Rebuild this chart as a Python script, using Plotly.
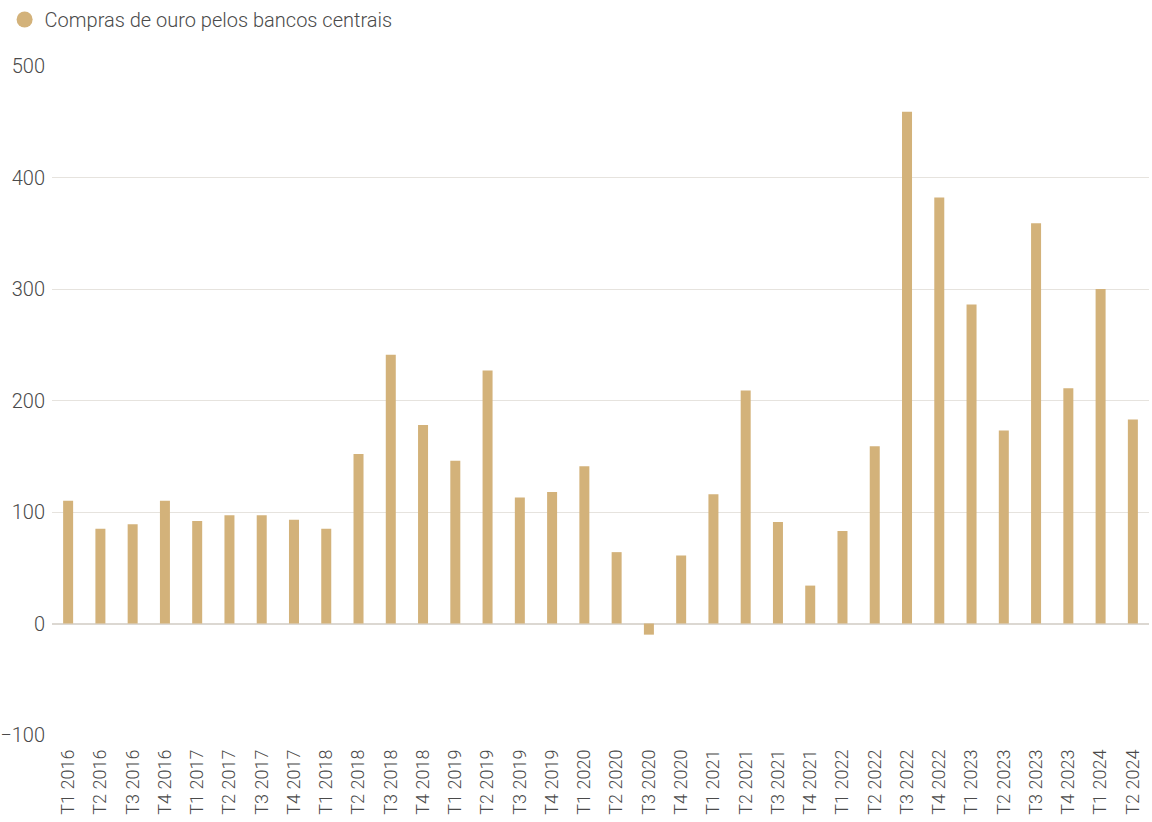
import plotly.graph_objects as go

categories = [
    "T1 2016", "T2 2016", "T3 2016", "T4 2016",
    "T1 2017", "T2 2017", "T3 2017", "T4 2017",
    "T1 2018", "T2 2018", "T3 2018", "T4 2018",
    "T1 2019", "T2 2019", "T3 2019", "T4 2019",
    "T1 2020", "T2 2020", "T3 2020", "T4 2020",
    "T1 2021", "T2 2021", "T3 2021", "T4 2021",
    "T1 2022", "T2 2022", "T3 2022", "T4 2022",
    "T1 2023", "T2 2023", "T3 2023", "T4 2023",
    "T1 2024", "T2 2024",
]
purchases = [
    110, 85, 89, 110,
    92, 97, 97, 93,
    85, 152, 241, 178,
    146, 227, 113, 118,
    141, 64, -10, 61,
    116, 209, 91, 34,
    83, 159, 459, 382,
    286, 173, 359, 211,
    300, 183,
]
series_name = "Compras de ouro pelos bancos centrais"
y_ticks = [-100, 0, 100, 200, 300, 400, 500]

GOLD = "#D3B27A"
FONT = "Roboto"
TEXT = "#4a4a4a"

fig = go.Figure()
fig.add_trace(go.Bar(
    x=categories, y=purchases, marker=dict(color=GOLD, line=dict(width=0)),
    showlegend=False, name=series_name,
))
fig.add_trace(go.Scatter(
    x=[None], y=[None], mode="markers", name=series_name,
    marker=dict(color=GOLD, size=16, symbol="circle"), showlegend=True,
))

fig.update_layout(
    width=1152, height=822,
    margin=dict(l=52, r=3, t=66, b=87, autoexpand=False),
    plot_bgcolor="white", paper_bgcolor="white",
    bargap=0.69,
    font=dict(family=FONT, color=TEXT, size=18),
    legend=dict(
        orientation="h", xref="container", yref="container",
        x=0.004, y=1.0, xanchor="left", yanchor="top",
        font=dict(family=FONT, size=20, color=TEXT, weight=300),
        bgcolor="rgba(0,0,0,0)",
    ),
    xaxis=dict(
        tickangle=-90, showgrid=False, showline=False, ticks="",
        ticklabelstandoff=10, automargin=False,
        tickfont=dict(family=FONT, size=18, color=TEXT, weight=300),
        range=[-0.5, len(categories) - 0.5],
    ),
    yaxis=dict(
        range=[-100, 500], tickvals=y_ticks, showgrid=True,
        gridcolor="#e6e3de", gridwidth=1, automargin=False,
        zeroline=True, zerolinecolor="#dcd8d2", zerolinewidth=2,
        ticks="", ticklabelstandoff=6,
        tickfont=dict(family=FONT, size=20, color=TEXT, weight=300),
    ),
)

fig.write_html("out.html")
